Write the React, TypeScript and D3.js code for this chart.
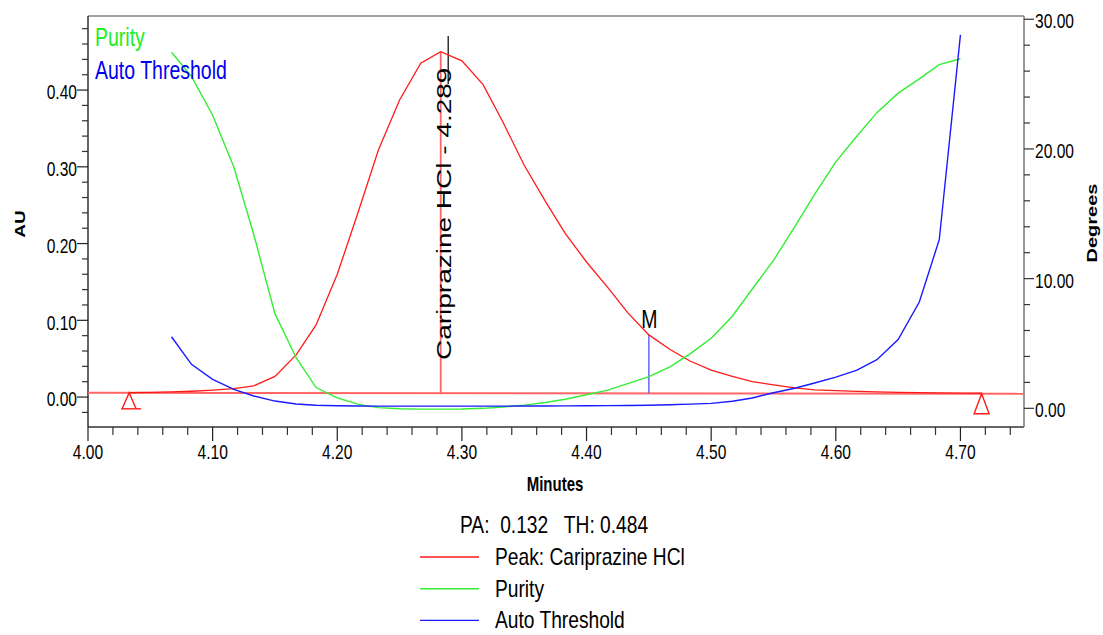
import React from 'react';
import * as d3 from 'd3';

// ---- data ----
const peakTimes = [4.033, 4.050, 4.067, 4.083, 4.100, 4.117, 4.133, 4.150, 4.167, 4.183, 4.200, 4.217, 4.233, 4.250, 4.267, 4.283, 4.300, 4.317, 4.333, 4.350, 4.367, 4.383, 4.400, 4.417, 4.433, 4.450, 4.467, 4.483, 4.500, 4.517, 4.533, 4.550, 4.567, 4.583, 4.600, 4.617, 4.633, 4.650, 4.667, 4.683, 4.700, 4.717];
const peakAU = [0.0056, 0.0062, 0.0068, 0.0076, 0.0090, 0.0110, 0.0147, 0.0270, 0.055, 0.094, 0.160, 0.242, 0.322, 0.387, 0.435, 0.450, 0.438, 0.407, 0.358, 0.302, 0.255, 0.213, 0.176, 0.143, 0.110, 0.081, 0.062, 0.047, 0.035, 0.027, 0.020, 0.016, 0.012, 0.0095, 0.0083, 0.0074, 0.0067, 0.0062, 0.0058, 0.0055, 0.0052, 0.0050];

const angleTimes = [4.067, 4.083, 4.100, 4.117, 4.133, 4.150, 4.167, 4.183, 4.200, 4.217, 4.233, 4.250, 4.267, 4.283, 4.300, 4.317, 4.333, 4.350, 4.367, 4.383, 4.400, 4.417, 4.433, 4.450, 4.467, 4.483, 4.500, 4.517, 4.533, 4.550, 4.567, 4.583, 4.600, 4.617, 4.633, 4.650, 4.667, 4.683, 4.700];
const purityDeg = [27.45, 25.6, 22.6, 18.6, 13.4, 7.3, 3.9, 1.6, 0.8, 0.3, 0.05, -0.03, -0.06, -0.06, -0.05, 0.0, 0.1, 0.25, 0.45, 0.7, 1.05, 1.4, 1.9, 2.44, 3.2, 4.2, 5.4, 7.1, 9.2, 11.4, 14.0, 16.5, 19.0, 21.0, 22.8, 24.3, 25.4, 26.5, 26.95];
const thresholdDeg = [5.52, 3.39, 2.24, 1.46, 0.95, 0.56, 0.33, 0.24, 0.20, 0.18, 0.17, 0.17, 0.17, 0.17, 0.17, 0.17, 0.17, 0.18, 0.18, 0.19, 0.20, 0.21, 0.22, 0.24, 0.27, 0.32, 0.38, 0.55, 0.8, 1.2, 1.55, 1.95, 2.4, 2.95, 3.75, 5.3, 8.2, 13.0, 28.8];

const baselineTimes = [4.0, 4.751];
const baselineAU = [0.0056, 0.0043];
const peakApexTime = 4.283;
const peakApexAU = 0.45;
const peakLabelTime = 4.289;
const peakLabel = 'Cariprazine HCl - 4.289';
const startMarkTime = 4.033;
const endMarkTime = 4.717;
const markTime = 4.450;
const markTopAU = 0.081;

const xMajorTicks = [4.0, 4.1, 4.2, 4.3, 4.4, 4.5, 4.6, 4.7];
const xMinorTicks = [4.02, 4.04, 4.06, 4.08, 4.12, 4.14, 4.16, 4.18, 4.22, 4.24, 4.26, 4.28, 4.32, 4.34, 4.36, 4.38, 4.42, 4.44, 4.46, 4.48, 4.52, 4.54, 4.56, 4.58, 4.62, 4.64, 4.66, 4.68, 4.72, 4.74];
const yLMajorTicks = [0.0, 0.1, 0.2, 0.3, 0.4];
const yLMinorTicks = [-0.02, 0.02, 0.04, 0.06, 0.08, 0.12, 0.14, 0.16, 0.18, 0.22, 0.24, 0.26, 0.28, 0.32, 0.34, 0.36, 0.38, 0.42, 0.44, 0.46, 0.48];
const yRMajorTicks = [0, 10, 20, 30];
const yRMinorTicks = [2, 4, 6, 8, 12, 14, 16, 18, 22, 24, 26, 28];

const legendSummary = 'PA:  0.132   TH: 0.484';
const legendItems = ['Peak: Cariprazine HCl', 'Purity', 'Auto Threshold'];
const legendColors = ['#ff1a1a', '#33ee33', '#1a1aff'];

// ---- layout ----
const W = 1103, H = 635;
const L = 88, R = 1024, TOP = 16, BOT = 427;
const SX = 0.78;
const FONT = "'Liberation Sans', Arial, Helvetica, sans-serif";

const x = d3.scaleLinear().domain([4.0, 4.751]).range([L, R]);
const yL = d3.scaleLinear().domain([-0.039, 0.4965]).range([BOT, TOP]);
const yR = d3.scaleLinear().domain([-1.44, 30.25]).range([BOT, TOP]);

function T(props: any) {
  const { x, y, size, sx = SX, anchor = 'start', rot = 0, weight = 'normal', fill = '#000', children } = props;
  return (
    <text
      transform={`translate(${x},${y}) scale(${sx},1)${rot ? ` rotate(${rot})` : ''}`}
      fontSize={size}
      textAnchor={anchor}
      fontFamily={FONT}
      fontWeight={weight}
      fill={fill}
      style={{ whiteSpace: 'pre' }}
    >
      {children}
    </text>
  );
}

export default function App() {
  const peakLine = d3.line<number>().x((_, i) => x(peakTimes[i])).y((d) => yL(d));
  const purityLine = d3.line<number>().x((_, i) => x(angleTimes[i])).y((d) => yR(d));
  const thrLine = d3.line<number>().x((_, i) => x(angleTimes[i])).y((d) => yR(d));
  const baseLine = d3.line<number>().x((_, i) => x(baselineTimes[i])).y((d) => yL(d));

  const baseAt = (t: number) =>
    baselineAU[0] + ((t - baselineTimes[0]) / (baselineTimes[1] - baselineTimes[0])) * (baselineAU[1] - baselineAU[0]);

  const sx1 = x(startMarkTime), sy1 = yL(baseAt(startMarkTime));
  const ex1 = x(endMarkTime), ey1 = yL(baseAt(endMarkTime));

  return (
    <svg width={W} height={H} style={{ position: 'absolute', left: 0, top: 0, background: '#fff' }}>
      <rect x={0} y={0} width={W} height={H} fill="#fff" />
      <defs>
        <clipPath id="plot">
          <rect x={L} y={TOP} width={R - L} height={BOT - TOP} />
        </clipPath>
      </defs>

      {/* frame */}
      <line x1={L} y1={TOP} x2={R} y2={TOP} stroke="#444" strokeWidth={1.2} />
      <line x1={L} y1={BOT} x2={R} y2={BOT} stroke="#333" strokeWidth={1.4} />
      <line x1={L} y1={TOP} x2={L} y2={BOT} stroke="#222" strokeWidth={1.4} />
      <line x1={R} y1={TOP} x2={R} y2={BOT} stroke="#808080" strokeWidth={1.6} />

      {/* x ticks */}
      {xMajorTicks.map((t) => (
        <g key={'xm' + t}>
          <line x1={x(t)} x2={x(t)} y1={BOT} y2={BOT + 14} stroke="#222" strokeWidth={1.2} />
          <T x={x(t)} y={459} size={20} anchor="middle">{t.toFixed(2)}</T>
        </g>
      ))}
      {xMinorTicks.map((t) => (
        <line key={'xn' + t} x1={x(t)} x2={x(t)} y1={BOT} y2={BOT + 8} stroke="#333" strokeWidth={1.2} />
      ))}

      {/* left y ticks */}
      {yLMajorTicks.map((v) => (
        <g key={'ylm' + v}>
          <line x1={L - 11} x2={L} y1={yL(v)} y2={yL(v)} stroke="#222" strokeWidth={1.2} />
          <T x={77} y={yL(v) + 9.3} size={20} anchor="end">{v.toFixed(2)}</T>
        </g>
      ))}
      {yLMinorTicks.map((v) => (
        <line key={'yln' + v} x1={L - 6} x2={L} y1={yL(v)} y2={yL(v)} stroke="#333" strokeWidth={1.2} />
      ))}

      {/* right y ticks */}
      {yRMajorTicks.map((v) => (
        <g key={'yrm' + v}>
          <line x1={R} x2={R + 10} y1={yR(v)} y2={yR(v)} stroke="#333" strokeWidth={1.2} />
          <T x={1035} y={yR(v) + 9} size={20} anchor="start">{v.toFixed(2)}</T>
        </g>
      ))}
      {yRMinorTicks.map((v) => (
        <line key={'yrn' + v} x1={R} x2={R + 6} y1={yR(v)} y2={yR(v)} stroke="#333" strokeWidth={1.2} />
      ))}

      {/* axis titles */}
      <T x={25} y={224} size={19} weight="bold" anchor="middle" rot={-90} sx={0.75}>AU</T>
      <T x={1097} y={223} size={20} weight="bold" anchor="middle" rot={-90} sx={0.75}>Degrees</T>
      <T x={555} y={491} size={20} weight="bold" anchor="middle" sx={0.75}>Minutes</T>

      <g clipPath="url(#plot)">
        {/* baseline */}
        <path d={baseLine(baselineAU) || ''} fill="none" stroke="#ff6666" strokeWidth={2} />
        {/* peak apex drop line */}
        <line x1={x(peakApexTime)} x2={x(peakApexTime)} y1={yL(baseAt(peakApexTime))} y2={yL(peakApexAU)} stroke="#ff6666" strokeWidth={1.8} />
        {/* label line */}
        <line x1={x(peakLabelTime)} x2={x(peakLabelTime)} y1={36} y2={84} stroke="#000" strokeWidth={1.2} />
        {/* M marker */}
        <line x1={x(markTime)} x2={x(markTime)} y1={yL(baseAt(markTime))} y2={yL(markTopAU)} stroke="#6666ff" strokeWidth={1.5} />

        <path d={peakLine(peakAU) || ''} fill="none" stroke="#ff1a1a" strokeWidth={1.3} />
        <path d={purityLine(purityDeg) || ''} fill="none" stroke="#33ee33" strokeWidth={1.4} />
        <path d={thrLine(thresholdDeg) || ''} fill="none" stroke="#1a1aff" strokeWidth={1.4} />

        {/* start / end markers */}
        <path d={`M${sx1 - 7},${sy1 + 16} L${sx1},${sy1} L${sx1 + 7},${sy1 + 16}`} fill="none" stroke="#ff1a1a" strokeWidth={1.4} />
        <line x1={sx1 - 8} x2={sx1 + 12} y1={sy1 + 16} y2={sy1 + 16} stroke="#ff1a1a" strokeWidth={1.4} />
        <path d={`M${ex1 - 7.5},${ey1 + 20} L${ex1},${ey1} L${ex1 + 7.5},${ey1 + 20} Z`} fill="none" stroke="#ff1a1a" strokeWidth={1.4} />
      </g>

      {/* annotations */}
      <T x={451} y={360} size={28} anchor="start" rot={-90} sx={0.75}>{peakLabel}</T>
      <T x={x(markTime) + 0.5} y={328} size={26} anchor="middle" sx={0.75}>M</T>

      {/* in-plot legend */}
      <T x={95} y={46} size={25} fill="#22ee22">Purity</T>
      <T x={95} y={79} size={25} fill="#0000ee">Auto Threshold</T>

      {/* bottom legend */}
      <T x={460} y={533} size={24} sx={0.8}>{legendSummary}</T>
      {legendItems.map((name, i) => {
        const ly = 557 + i * 31.7;
        return (
          <g key={name}>
            <line x1={420} x2={479} y1={ly} y2={ly} stroke={legendColors[i]} strokeWidth={1.4} />
            <T x={495} y={ly + 8} size={24} sx={0.8}>{name}</T>
          </g>
        );
      })}
    </svg>
  );
}
